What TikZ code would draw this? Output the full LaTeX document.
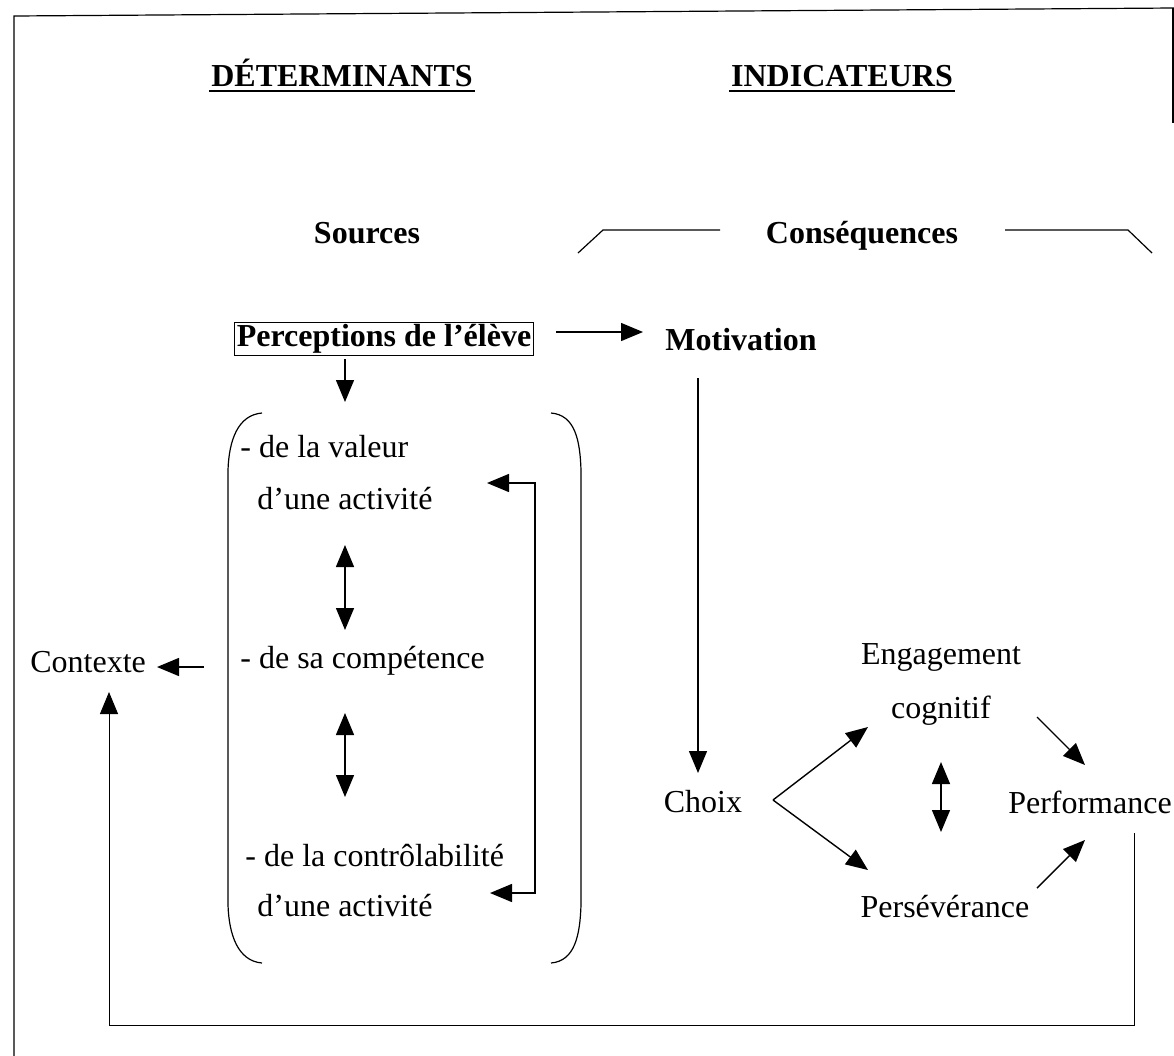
\documentclass[tikz,border=0pt]{standalone}
\usepackage{fontspec}
\setmainfont{Liberation Serif}
\usetikzlibrary{arrows.meta,positioning}

\begin{document}
\begin{tikzpicture}[x=0.5pt,y=-0.5pt, every node/.style={font=\fontsize{16}{19}\selectfont,inner sep=1pt}, head/.style={font=\fontsize{16}{19}\selectfont\bfseries}, item/.style={anchor=west}, arr/.style={-{Triangle[length=11pt,width=9pt]},line width=0.7pt}, dbl/.style={{Triangle[length=11pt,width=9pt]}-{Triangle[length=11pt,width=9pt]},line width=0.7pt}, line/.style={line width=0.6pt}, uline/.style={line width=1.4pt}]
\useasboundingbox (0,0) rectangle (1174,1056);
% frame
\draw[line] (14,1056) -- (14,16) -- (1174,8);
\draw[line] (1173,8) -- (1173,123);
% headings
\node[head,anchor=base] (det) at (342,86) {DÉTERMINANTS};
\node[head,anchor=base] (ind) at (842,86) {INDICATEURS};
\draw[uline] ([yshift=-2.5pt]det.base west) -- ([yshift=-2.5pt]det.base east);
\draw[uline] ([yshift=-2.5pt]ind.base west) -- ([yshift=-2.5pt]ind.base east);
\node[head,anchor=base] (src) at (367,243) {Sources};
\node[head,anchor=base] (csq) at (862,243) {Conséquences};
\draw[line] ([xshift=-71pt,yshift=6.5pt]csq.base) -- ++(-117,0) -- ++(-25,23);
\draw[line] ([xshift=71.5pt,yshift=6.5pt]csq.base) -- ++(123,0) -- ++(24,23);
% sources
\node[head,draw,line width=0.4pt] (percep) at (384,339) {Perceptions de l’élève};
\node[head] (motiv) at (741,340) {Motivation};
\draw[arr] ([xshift=86pt,yshift=3.5pt]percep.center) -- ([xshift=-49pt,yshift=4pt]motiv.center);
\draw[arr] ([xshift=-19.5pt,yshift=-10pt]percep.center) -- ++(0,43);
% parentheses
\draw[line] (262,413) .. controls (238,415) and (229,440) .. (228,470) -- (228,905) .. controls (229,935) and (238,961) .. (262,963);
\draw[line] (551,413) .. controls (575,415) and (580,440) .. (581,470) -- (581,905) .. controls (580,935) and (575,961) .. (551,963);
\node[item] (val1) at (238,447) {- de la valeur};
\node[item] (val2) at (255,499) {d’une activité};
\node[item] (comp) at (238,661) {- de sa compétence};
\node[item] (ctl1) at (243,856) {- de la contrôlabilité};
\node[item] (ctl2) at (255,906) {d’une activité};
\draw[dbl] ([xshift=45pt,yshift=-23pt]val2.west) -- ([xshift=53.5pt,yshift=15.5pt]comp.west);
\draw[dbl] ([xshift=53.5pt,yshift=-26pt]comp.west) -- ([xshift=51pt,yshift=29.5pt]ctl1.west);
\draw[dbl] ([xshift=116pt,yshift=8pt]val2.west) -- ++(48,0) |- ([xshift=117.5pt,yshift=6.5pt]ctl2.west);
\node[item] (ctx) at (28,662) {Contexte};
\draw[arr] ([xshift=-17pt,yshift=-3pt]comp.west) -- ([xshift=64.5pt,yshift=-2.5pt]ctx.west);
% consequences
\node (choix) at (703,802) {Choix};
\node[align=center,font=\fontsize{16}{27}\selectfont] (engage) at (941,684) {Engagement\\cognitif};
\node (persev) at (945,907) {Persévérance};
\node (perf) at (1090,802) {Performance};
\draw[arr] ([xshift=-21.5pt,yshift=-19pt]motiv.center) -- ([xshift=-2.5pt,yshift=14.5pt]choix.center);
\draw[arr] ([xshift=35pt,yshift=1pt]choix.center) -- ([xshift=-36.5pt,yshift=-21.5pt]engage.center);
\draw[arr] ([xshift=35pt,yshift=1pt]choix.center) -- ([xshift=-38.5pt,yshift=18.5pt]persev.center);
\draw[dbl] ([yshift=-39pt]engage.center) -- ([xshift=-2pt,yshift=37.5pt]persev.center);
\draw[arr] ([xshift=48pt,yshift=-16.5pt]engage.center) -- ([xshift=-2.5pt,yshift=18.5pt]perf.center);
\draw[arr] ([xshift=46pt,yshift=9.5pt]persev.center) -- ([xshift=-2.5pt,yshift=-19pt]perf.center);
% feedback loop
\draw[arr,line width=0.5pt] ([xshift=22pt,yshift=-15.5pt]perf.center) -- ++(0,192) -| ([xshift=40.5pt,yshift=-15pt]ctx.west);
\end{tikzpicture}
\end{document}
